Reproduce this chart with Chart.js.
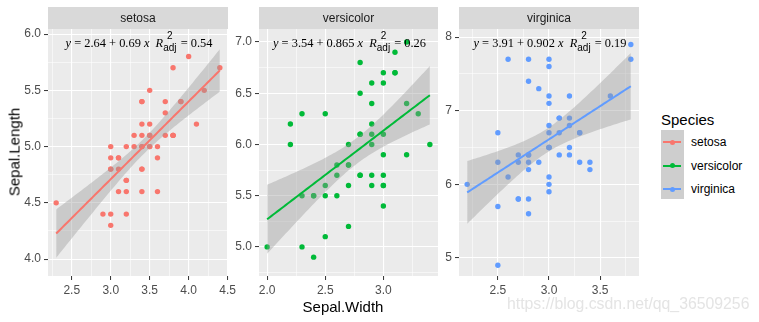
<!DOCTYPE html>
<html>
<head>
<meta charset="utf-8">
<script src="https://cdn.jsdelivr.net/npm/chart.js@4.4.0/dist/chart.umd.min.js"></script>
<style>
  body { margin: 0; background: #fff; width: 759px; height: 322px; overflow: hidden; position: relative;
         font-family: "Liberation Sans", Arial, sans-serif; }
  canvas { position: absolute; top: 0; }
  .txt { position: absolute; white-space: nowrap; line-height: 1; }
</style>
</head>
<body>
<canvas id="c0"></canvas>
<canvas id="c1"></canvas>
<canvas id="c2"></canvas>

<div class="txt" style="left:14px;top:152px;font-size:15px;color:#000;transform:translate(-50%,-50%) rotate(-90deg);">Sepal.Length</div>
<div class="txt" style="left:343px;top:306px;font-size:15px;color:#000;transform:translate(-50%,-50%);">Sepal.Width</div>
<div class="txt" style="left:507px;top:304px;font-size:15.8px;color:#e4e4e4;transform:translateY(-50%);">https://blog.csdn.net/qq_36509256</div>
<div id="legend"></div>

<script>
// iris data, one pair of arrays per species
const species = ['setosa', 'versicolor', 'virginica'];
const colors = ['#F8766D', '#00BA38', '#619CFF'];

const widthSetosa = [3.5,3.0,3.2,3.1,3.6,3.9,3.4,3.4,2.9,3.1,3.7,3.4,3.0,3.0,4.0,4.4,3.9,3.5,3.8,3.8,3.4,3.7,3.6,3.3,3.4,3.0,3.4,3.5,3.4,3.2,3.1,3.4,4.1,4.2,3.1,3.2,3.5,3.6,3.0,3.4,3.5,2.3,3.2,3.5,3.8,3.0,3.8,3.2,3.7,3.3];
const lengthSetosa = [5.1,4.9,4.7,4.6,5.0,5.4,4.6,5.0,4.4,4.9,5.4,4.8,4.8,4.3,5.8,5.7,5.4,5.1,5.7,5.1,5.4,5.1,4.6,5.1,4.8,5.0,5.0,5.2,5.2,4.7,4.8,5.4,5.2,5.5,4.9,5.0,5.5,4.9,4.4,5.1,5.0,4.5,4.4,5.0,5.1,4.8,5.1,4.6,5.3,5.0];

const widthVersicolor = [3.2,3.2,3.1,2.3,2.8,2.8,3.3,2.4,2.9,2.7,2.0,3.0,2.2,2.9,2.9,3.1,3.0,2.7,2.2,2.5,3.2,2.8,2.5,2.8,2.9,3.0,2.8,3.0,2.9,2.6,2.4,2.4,2.7,2.7,3.0,3.4,3.1,2.3,3.0,2.5,2.6,3.0,2.6,2.3,2.7,3.0,2.9,2.9,2.5,2.8];
const lengthVersicolor = [7.0,6.4,6.9,5.5,6.5,5.7,6.3,4.9,6.6,5.2,5.0,5.9,6.0,6.1,5.6,6.7,5.6,5.8,6.2,5.6,5.9,6.1,6.3,6.1,6.4,6.6,6.8,6.7,6.0,5.7,5.5,5.5,5.8,6.0,5.4,6.0,6.7,6.3,5.6,5.5,5.5,6.1,5.8,5.0,5.6,5.7,5.7,6.2,5.1,5.7];

const widthVirginica = [3.3,2.7,3.0,2.9,3.0,3.0,2.5,2.9,2.5,3.6,3.2,2.7,3.0,2.5,2.8,3.2,3.0,3.8,2.6,2.2,3.2,2.8,2.8,2.7,3.3,3.2,2.8,3.0,2.8,3.0,2.8,3.8,2.8,2.8,2.6,3.0,3.4,3.1,3.0,3.1,3.1,3.1,2.7,3.2,3.3,3.0,2.5,3.0,3.4,3.0];
const lengthVirginica = [6.3,5.8,7.1,6.3,6.5,7.6,4.9,7.3,6.7,7.2,6.5,6.4,6.8,5.7,5.8,6.4,6.5,7.7,7.7,6.0,6.9,5.6,7.7,6.3,6.7,7.2,6.2,6.1,6.4,7.2,7.4,7.9,6.4,6.3,6.1,7.7,6.3,6.4,6.0,6.9,6.7,6.9,5.8,6.8,6.7,6.7,6.3,6.5,6.2,5.9];

const widths = [widthSetosa, widthVersicolor, widthVirginica];
const lengths = [lengthSetosa, lengthVersicolor, lengthVirginica];

// equation labels as printed
const eqIntercept = ['2.64', '3.54', '3.91'];
const eqSlope = ['0.69', '0.865', '0.902'];
const eqR2adj = ['0.54', '0.26', '0.19'];

// axis limits and ticks per panel
const xMin = [2.195, 1.93, 2.12];
const xMax = [4.505, 3.47, 3.88];
const yMin = [3.85, 4.716, 4.755];
const yMax = [6.045, 7.127, 8.11];
const xTicks = [[2.5, 3.0, 3.5, 4.0, 4.5], [2.0, 2.5, 3.0], [2.5, 3.0, 3.5]];
const xTickLabels = [['2.5', '3.0', '3.5', '4.0', '4.5'], ['2.0', '2.5', '3.0'], ['2.5', '3.0', '3.5']];
const xMinor = [[2.25, 2.75, 3.25, 3.75, 4.25], [2.25, 2.75, 3.25], [2.25, 2.75, 3.25, 3.75]];
const yTicks = [[4.0, 4.5, 5.0, 5.5, 6.0], [5.0, 5.5, 6.0, 6.5, 7.0], [5, 6, 7, 8]];
const yTickLabels = [['4.0', '4.5', '5.0', '5.5', '6.0'], ['5.0', '5.5', '6.0', '6.5', '7.0'], ['5', '6', '7', '8']];
const yMinor = [[4.25, 4.75, 5.25, 5.75], [4.75, 5.25, 5.75, 6.25, 6.75], [5.5, 6.5, 7.5]];

// page layout
const panelLeft = [48, 259, 459];
const panelRight = [228, 438, 639];
const yAxisW = 45, padRight = 14, panelTop = 29, xAxisH = 46;

const T975 = 2.0106; // qt(0.975, 48)

function lmBand(xs, ys) {
  const n = xs.length;
  const mx = xs.reduce((a, b) => a + b, 0) / n;
  const my = ys.reduce((a, b) => a + b, 0) / n;
  let sxx = 0, sxy = 0;
  for (let k = 0; k < n; k++) {
    sxx += (xs[k] - mx) * (xs[k] - mx);
    sxy += (xs[k] - mx) * (ys[k] - my);
  }
  const b = sxy / sxx, a = my - b * mx;
  let sse = 0;
  for (let k = 0; k < n; k++) sse += Math.pow(ys[k] - a - b * xs[k], 2);
  const s = Math.sqrt(sse / (n - 2));
  const lo = Math.min.apply(null, xs), hi = Math.max.apply(null, xs);
  const fit = [], up = [], low = [];
  for (let k = 0; k < 80; k++) {
    const x = lo + (hi - lo) * k / 79;
    const yh = a + b * x;
    const se = s * Math.sqrt(1 / n + (x - mx) * (x - mx) / sxx);
    fit.push({x: x, y: yh});
    up.push({x: x, y: yh + T975 * se});
    low.push({x: x, y: yh - T975 * se});
  }
  return {fit, up, low};
}

const key = v => Number(v).toFixed(3);

function drawEquation(ctx, cx, base, i) {
  const serif = '12.4px "Liberation Serif", "Times New Roman", serif';
  const serifI = 'italic 12.4px "Liberation Serif", "Times New Roman", serif';
  const small = '10px "Liberation Sans", Arial, sans-serif';
  const parts = [
    [serifI, 'y'], [serif, ' = ' + eqIntercept[i] + ' + ' + eqSlope[i] + ' '],
    [serifI, 'x'], [serif, '  '], [serifI, 'R']
  ];
  const tail = ' = ' + eqR2adj[i];
  let total = 0;
  parts.forEach(p => { ctx.font = p[0]; total += ctx.measureText(p[1]).width; });
  ctx.font = small;
  const scriptW = Math.max(ctx.measureText('2').width, ctx.measureText('adj').width);
  total += scriptW + 1;
  ctx.font = serif;
  total += ctx.measureText(tail).width;

  let x = cx - total / 2;
  ctx.fillStyle = '#000';
  ctx.textBaseline = 'alphabetic';
  ctx.textAlign = 'left';
  parts.forEach(p => {
    ctx.font = p[0];
    ctx.fillText(p[1], x, base);
    x += ctx.measureText(p[1]).width;
  });
  ctx.font = small;
  ctx.textAlign = 'center';
  ctx.fillText('2', x + scriptW / 2, base - 8);
  ctx.fillText('adj', x + scriptW / 2, base + 4);
  x += scriptW + 1;
  ctx.textAlign = 'left';
  ctx.font = serif;
  ctx.fillText(tail, x, base);
}

const facetPlugin = {
  id: 'facet',
  beforeDraw(chart) {
    const a = chart.chartArea, ctx = chart.ctx, i = chart.options.plugins.facet.index;
    ctx.save();
    ctx.fillStyle = '#EBEBEB';
    ctx.fillRect(a.left, a.top, a.right - a.left, a.bottom - a.top);
    ctx.fillStyle = '#D9D9D9';
    ctx.fillRect(a.left, 7, a.right - a.left, a.top - 7);
    ctx.fillStyle = '#1A1A1A';
    ctx.font = '12px "Liberation Sans", Arial, sans-serif';
    ctx.textAlign = 'center';
    ctx.textBaseline = 'middle';
    ctx.fillText(species[i], (a.left + a.right) / 2, 18.5);
    ctx.restore();
  },
  afterDatasetsDraw(chart) {
    const a = chart.chartArea, ctx = chart.ctx, i = chart.options.plugins.facet.index;
    ctx.save();
    drawEquation(ctx, (a.left + a.right) / 2 + 1, 46.5, i);
    ctx.restore();
  }
};

function axisOpts(min, max, majors, labels, minors, horizontal) {
  const labelMap = {};
  majors.forEach((v, k) => { labelMap[key(v)] = labels[k]; });
  const isMajor = v => labelMap[key(v)] !== undefined;
  return {
    type: 'linear',
    min: min,
    max: max,
    afterBuildTicks: s => {
      s.ticks = majors.concat(minors).sort((p, q) => p - q).map(v => ({value: v}));
    },
    afterFit: s => {
      if (horizontal) s.height = xAxisH; else s.width = yAxisW;
    },
    border: {display: false},
    grid: {
      color: '#FFFFFF',
      lineWidth: c => (c.tick && isMajor(c.tick.value)) ? 1.1 : 0.55,
      tickColor: c => (c.tick && isMajor(c.tick.value)) ? '#333333' : 'rgba(0,0,0,0)',
      tickWidth: 1,
      tickLength: 4,
      drawTicks: true
    },
    ticks: {
      autoSkip: false,
      maxRotation: 0,
      minRotation: 0,
      padding: 3,
      color: '#4D4D4D',
      font: {family: '"Liberation Sans", Arial, sans-serif', size: 12},
      callback: v => labelMap[key(v)] !== undefined ? labelMap[key(v)] : ''
    }
  };
}

species.forEach((sp, i) => {
  const cv = document.getElementById('c' + i);
  const w = panelRight[i] - panelLeft[i] + yAxisW + padRight;
  cv.width = w; cv.height = 322;
  cv.style.left = (panelLeft[i] - yAxisW) + 'px';
  cv.style.width = w + 'px'; cv.style.height = '322px';

  const band = lmBand(widths[i], lengths[i]);
  const pts = widths[i].map((x, k) => ({x: x, y: lengths[i][k]}));

  new Chart(cv.getContext('2d'), {
    type: 'line',
    data: {
      datasets: [
        {data: band.fit, borderColor: colors[i], borderWidth: 2, pointRadius: 0, fill: false, order: 0, tension: 0},
        {data: band.up, borderColor: 'rgba(0,0,0,0)', borderWidth: 0, pointRadius: 0,
         fill: '+1', backgroundColor: 'rgba(153,153,153,0.4)', order: 1},
        {data: band.low, borderColor: 'rgba(0,0,0,0)', borderWidth: 0, pointRadius: 0, fill: false, order: 1},
        {data: pts, showLine: false, pointRadius: 2.7, pointBackgroundColor: colors[i],
         pointBorderWidth: 0, pointBorderColor: colors[i], order: 2}
      ]
    },
    options: {
      responsive: false,
      animation: false,
      layout: {padding: {top: panelTop, right: padRight, left: 0, bottom: 0}},
      plugins: {legend: {display: false}, tooltip: {enabled: false}, facet: {index: i}},
      scales: {
        x: axisOpts(xMin[i], xMax[i], xTicks[i], xTickLabels[i], xMinor[i], true),
        y: axisOpts(yMin[i], yMax[i], yTicks[i], yTickLabels[i], yMinor[i], false)
      }
    },
    plugins: [facetPlugin]
  });
});

// legend
const lg = document.getElementById('legend');
let html = '<div class="txt" style="left:661px;top:112px;font-size:15px;color:#000;">Species</div>';
html += '<div style="position:absolute;left:661px;top:130px;width:23px;height:69px;background:rgb(206,206,206);"></div>';
species.forEach((sp, k) => {
  const cy = 142 + k * 23.5;
  html += '<div style="position:absolute;left:663px;top:' + (cy - 1) + 'px;width:18px;height:2px;background:' + colors[k] + ';"></div>';
  html += '<div style="position:absolute;left:' + (672 - 2.5) + 'px;top:' + (cy - 2.5) + 'px;width:5px;height:5px;border-radius:50%;background:' + colors[k] + ';"></div>';
  html += '<div class="txt" style="left:691px;top:' + cy + 'px;font-size:12px;color:#000;transform:translateY(-50%);">' + sp + '</div>';
});
lg.innerHTML = html;
</script>
</body>
</html>
